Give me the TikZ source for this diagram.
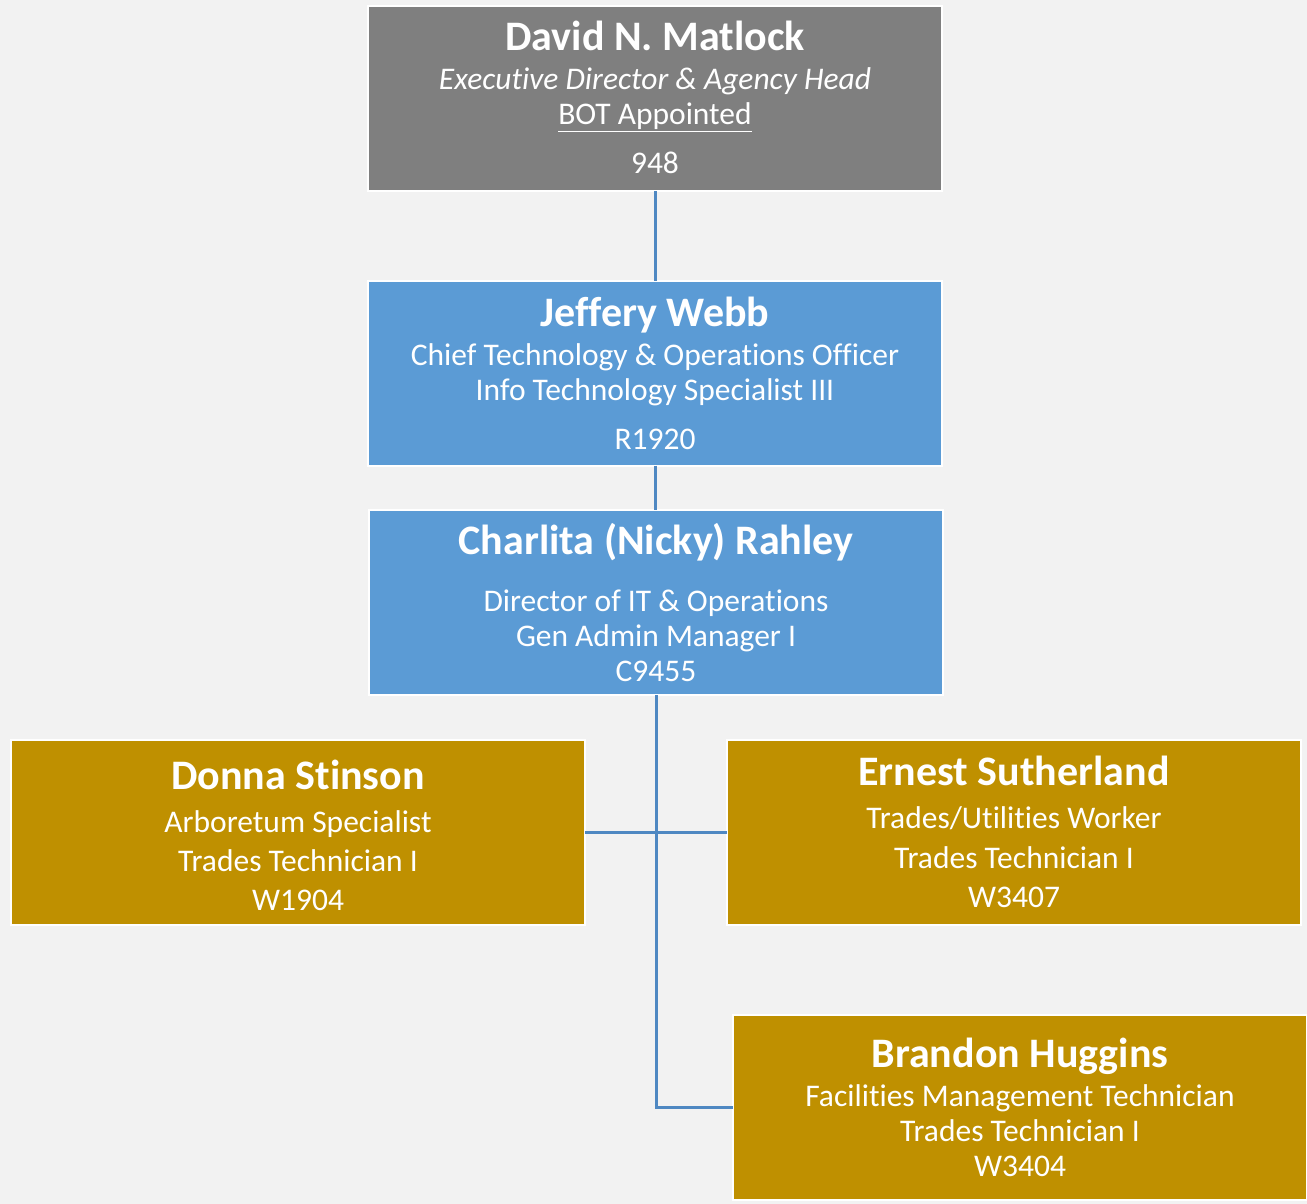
\documentclass[tikz,border=0pt]{standalone}
\usepackage{fontspec}
\setmainfont[Ligatures={NoCommon}]{Carlito}
\definecolor{bgc}{HTML}{F2F2F2}
\definecolor{greyc}{HTML}{7F7F7F}
\definecolor{bluec}{HTML}{5B9BD5}
\definecolor{goldc}{HTML}{BF9000}
\definecolor{linec}{HTML}{4F88C2}
\begin{document}
\begin{tikzpicture}[x=1pt,y=-1pt,
  box/.style={draw=white,line width=2pt,minimum width=574pt,minimum height=185pt,inner sep=0pt,outer sep=0pt},
  pname/.style={font=\fontsize{42}{46}\selectfont\bfseries,text=white,anchor=base,inner sep=0pt},
  sub/.style={font=\fontsize{31.5}{36}\selectfont,text=white,anchor=base,inner sep=0pt},
  conn/.style={draw=linec,line width=3pt}]
\fill[bgc] (0,0) rectangle (1307,1204);
\useasboundingbox (0,0) rectangle (1307,1204);
% boxes
\node[box,fill=greyc] (matlock) at (655,98.5) {};
\node[box,fill=bluec] (webb) at (655,373) {};
\node[box,fill=bluec] (rahley) at (656,602.5) {};
\node[box,fill=goldc] (donna) at (298,832.5) {};
\node[box,fill=goldc] (ernest) at (1014,832.5) {};
\node[box,fill=goldc] (brandon) at (1019.5,1107.5) {};
% connectors
\draw[conn] (matlock.south) -- (webb.north);
\draw[conn] (webb.south) -- (webb.south |- rahley.north);
\draw[conn] (rahley.south) -- (rahley.south |- brandon.west) -- (brandon.west);
\draw[conn] (donna.east) -- (ernest.west);
% texts
\node[pname] (t1a) at (655,51) {David N. Matlock};
\node[sub] (t1b) at (655,90) {\itshape Executive Director \& Agency Head};
\node[sub] (t1c) at (655,125) {\underline{BOT Appointed}};
\node[sub] (t1d) at (655,174) {948};
\node[pname] (t2a) at (655,326) {Jeffery Webb};
\node[sub] (t2b) at (655,365) {Chief Technology \& Operations Officer};
\node[sub] (t2c) at (655,400) {Info Technology Specialist III};
\node[sub] (t2d) at (655,449) {R1920};
\node[pname] (t3a) at (656,554) {Charlita (Nicky) Rahley};
\node[sub] (t3b) at (656,611) {Director of IT \& Operations};
\node[sub] (t3c) at (656,646) {Gen Admin Manager I};
\node[sub] (t3d) at (656,681) {C9455};
\node[pname] (t4a) at (298,789) {Donna Stinson};
\node[sub] (t4b) at (298,832) {Arboretum Specialist};
\node[sub] (t4c) at (298,871) {Trades Technician I};
\node[sub] (t4d) at (298,910) {W1904};
\node[pname] (t5a) at (1014,785) {Ernest Sutherland};
\node[sub] (t5b) at (1014,828) {Trades/Utilities Worker};
\node[sub] (t5c) at (1014,868) {Trades Technician I};
\node[sub] (t5d) at (1014,907) {W3407};
\node[pname] (t6a) at (1020,1067) {Brandon Huggins};
\node[sub] (t6b) at (1020,1106) {Facilities Management Technician};
\node[sub] (t6c) at (1020,1141) {Trades Technician I};
\node[sub] (t6d) at (1020,1176) {W3404};
\end{tikzpicture}
\end{document}
